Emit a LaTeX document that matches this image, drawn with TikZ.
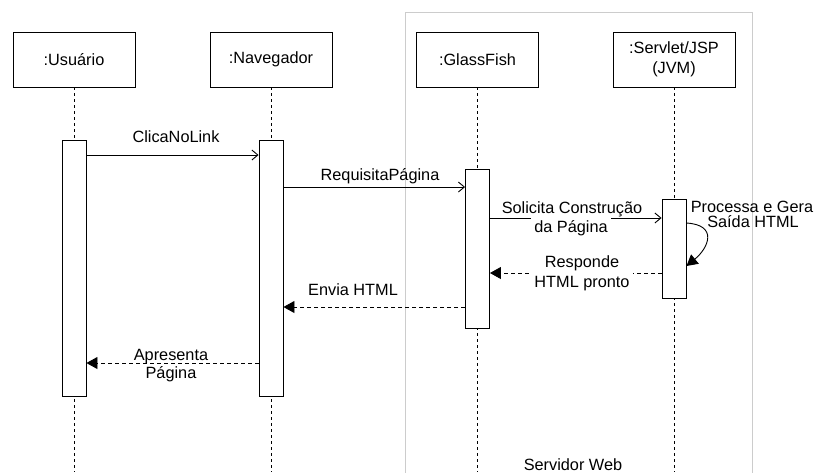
\documentclass[tikz,border=0pt]{standalone}
\usepackage{fontspec}
\setmainfont{Liberation Sans}
\usetikzlibrary{arrows.meta}

\begin{document}
\begin{tikzpicture}[x=1pt, y=-1pt,
    every node/.style={font=\fontsize{16.3}{20}\selectfont},
    objbox/.style={draw, line width=0.9pt, fill=white, minimum width=122pt, minimum height=55pt, align=center},
    activ/.style={draw, line width=0.9pt, fill=white, minimum width=24pt, inner sep=0pt},
    serverbox/.style={draw=black!20, line width=1.4pt, fill=white, minimum width=347pt, minimum height=470pt, anchor=north west},
    lifeline/.style={line width=0.9pt, dash pattern=on 3pt off 3pt},
    call/.style={line width=0.9pt, -{Straight Barb[length=6pt,width=10pt]}},
    reply/.style={line width=0.9pt, dash pattern=on 4pt off 3pt, -{Triangle[length=11pt,width=12pt]}},
    lbl/.style={anchor=base, inner sep=0pt},
    lblcut/.style={anchor=base, fill=white, text height=13pt, inner sep=3pt}
  ]
        \useasboundingbox (0, 0) rectangle (819, 472);
        \node[serverbox] (servidor) at (405, 12) {};

        % objetos
        \node[objbox] (usuario) at (74, 59.5) {:Usuário};
        \node[objbox] (navegador) at (271, 59.5) {:Navegador};
        \node[objbox] (glassfish) at (477.5, 59.5) {:GlassFish};
        \node[objbox] (servlet) at (674, 59.5) {:Servlet/JSP\\(JVM)};

        \draw[lifeline] (usuario.south) -- (usuario.south |- 0, 472);
        \draw[lifeline] (navegador.south) -- (navegador.south |- 0, 472);
        \draw[lifeline] (glassfish.south) -- (glassfish.south |- 0, 472);
        \draw[lifeline] (servlet.south) -- (servlet.south |- 0, 472);

        % ativacoes
        \node[activ, minimum height=256pt] (actU) at (74, 268) {};
        \node[activ, minimum height=256pt] (actN) at (271, 268) {};
        \node[activ, minimum height=159pt] (actG) at (477.5, 248.5) {};
        \node[activ, minimum height=99pt] (actS) at (674, 248.5) {};

        % mensagens
        \draw[call] (actU.east |- 0, 155) -- (actN.west |- 0, 155);
        \draw[call] (actN.east |- 0, 187) -- (actG.west |- 0, 187);
        \draw[call] (actG.east |- 0, 218) -- (actS.west |- 0, 218);
        \draw[line width=0.9pt, -{Triangle[length=11pt,width=12pt]}]
          (actS.east |- 0, 223) .. controls +(32, 2) and +(22, -18) .. (actS.east |- 0, 266);
        \draw[reply] (actS.west |- 0, 273) -- (actG.east |- 0, 273);
        \draw[reply] (actG.west |- 0, 307) -- (actN.east |- 0, 307);
        \draw[reply] (actN.west |- 0, 363) -- (actU.east |- 0, 363);

        % rotulos
        \node[lbl] (lClica) at (176, 142) {ClicaNoLink};
        \node[lbl] (lRequisita) at (380, 180) {RequisitaPágina};
        \node[lblcut] (lSolicita2) at (571, 232) {da Página};
        \node[lbl] (lSolicita1) at (572, 213) {Solicita Construção};
        \node[lbl] (lProcessa1) at (752, 212) {Processa e Gera};
        \node[lbl] (lProcessa2) at (753, 227) {Saída HTML};
        \node[lblcut] (lResponde2) at (582, 287) {HTML pronto};
        \node[lbl] (lResponde1) at (582, 267) {Responde};
        \node[lbl] (lEnvia) at (353, 295) {Envia HTML};
        \node[lbl] (lApresenta1) at (171, 360) {Apresenta};
        \node[lbl] (lApresenta2) at (171, 378) {Página};
        \node[lbl] (lServidor) at (573, 470) {Servidor Web};
      \end{tikzpicture}
\end{document}
